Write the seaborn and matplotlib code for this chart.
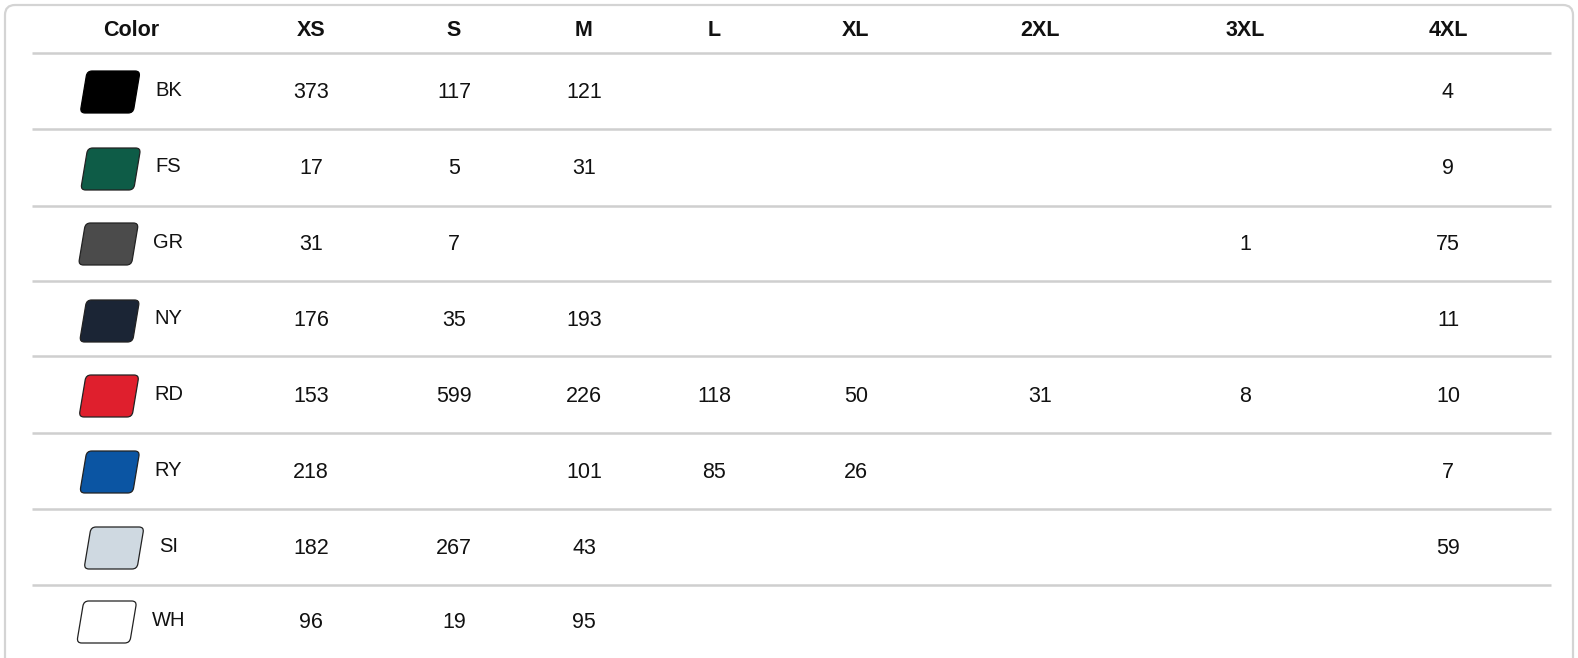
import numpy as np
import matplotlib
matplotlib.use("Agg")
import matplotlib.pyplot as plt
import seaborn as sns
from matplotlib.patches import FancyBboxPatch
from matplotlib.transforms import Affine2D

# table data
sizes = ['XS', 'S', 'M', 'L', 'XL', '2XL', '3XL', '4XL']
colors = ['BK', 'FS', 'GR', 'NY', 'RD', 'RY', 'SI', 'WH']
swatch = ['#000000', '#0e5c47', '#4b4b4b', '#1b2535', '#df1f2d', '#0b55a3', '#cfd9e1', '#ffffff']
n = np.nan
BK = [373, 117, 121, n, n, n, n, 4]
FS = [17, 5, 31, n, n, n, n, 9]
GR = [31, 7, n, n, n, n, 1, 75]
NY = [176, 35, 193, n, n, n, n, 11]
RD = [153, 599, 226, 118, 50, 31, 8, 10]
RY = [218, n, 101, 85, 26, n, n, 7]
SI = [182, 267, 43, n, n, n, n, 59]
WH = [96, 19, 95, n, n, n, n, n]
stock = [BK, FS, GR, NY, RD, RY, SI, WH]

sns.set_theme(style="white")
plt.rcParams['font.family'] = ['Liberation Sans', 'DejaVu Sans']

W, H = 1578, 658
fig = plt.figure(figsize=(W / 100, H / 100), dpi=100)
ax = fig.add_axes([0, 0, 1, 1])
ax.set_xlim(0, W)
ax.set_ylim(H, 0)
ax.axis('off')

# outer card border
card = FancyBboxPatch((5, 5), W - 10, H + 20, boxstyle="round,pad=0,rounding_size=10",
                      fc='white', ec='#d4d4d4', lw=1.6)
ax.add_patch(card)

col_x = [131, 311, 454, 584, 714, 856, 1040, 1245, 1448]
header_y = 31
lines_y = [53, 129, 206, 281, 356, 433, 509, 585]
row_y = [92, 169, 244, 321, 396, 472, 548, 622]
fs_head = 15.5
fs_body = 15.5

ax.text(col_x[0], header_y, 'Color', ha='center', va='center', fontsize=fs_head, fontweight='bold', color='#111111')
for x, s in zip(col_x[1:], sizes):
    ax.text(x, header_y, s, ha='center', va='center', fontsize=fs_head, fontweight='bold', color='#111111')

ax.hlines(lines_y, 32, 1551, color='#cfcfcf', lw=1.8)

fig.canvas.draw()
renderer = fig.canvas.get_renderer()

sw_w, sw_h = 53, 42
gap = 15
for i, (c, fc, vals) in enumerate(zip(colors, swatch, stock)):
    y = row_y[i]
    t = ax.text(0, y - 2, c, ha='left', va='center', fontsize=fs_body - 1, color='#111111')
    tw = t.get_window_extent(renderer).width
    total = 60 + gap + tw
    left = col_x[0] - total / 2
    t.set_x(left + 60 + gap)
    cx = left + 30
    p = FancyBboxPatch((-sw_w / 2, -sw_h / 2), sw_w, sw_h,
                       boxstyle="round,pad=0,rounding_size=5",
                       fc=fc, ec='#222222' if fc != '#000000' else '#000000', lw=0.9)
    p.set_transform(Affine2D().skew_deg(-9.5, 0).translate(cx, y) + ax.transData)
    ax.add_patch(p)
    for x, v in zip(col_x[1:], vals):
        if not np.isnan(v):
            ax.text(x, y, str(int(v)), ha='center', va='center', fontsize=fs_body, color='#111111')

fig.savefig('out.png', dpi=100)
